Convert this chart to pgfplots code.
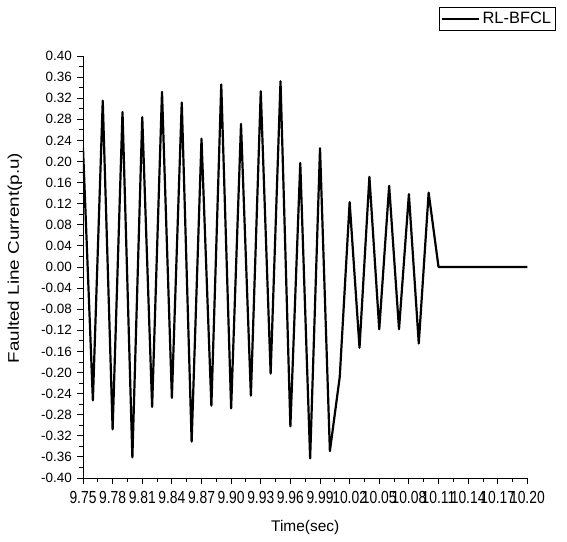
\documentclass[border=0pt]{standalone}
\usepackage{fontspec}
\setmainfont{Liberation Sans}
\usepackage{pgfplots}
\pgfplotsset{compat=1.18}
\begin{document}
\begin{tikzpicture}
\useasboundingbox (-83bp,-64bp) rectangle (484bp,478bp);
\begin{axis}[
  at={(0,0)}, anchor=south west,
  scale only axis,
  width=444.4bp, height=422bp,
  xmin=9.75, xmax=10.20, ymin=-0.40, ymax=0.40,
  axis x line*=bottom, axis y line*=left,
  axis line style={line width=0.9bp},
  tick align=outside,
  major tick length=6bp, minor tick length=3.5bp,
  every tick/.style={black, line width=0.9bp},
  xtick={9.75,9.78,9.81,9.84,9.87,9.90,9.93,9.96,9.99,10.02,10.05,10.08,10.11,10.14,10.17,10.20},
  ytick={-0.40,-0.36,-0.32,-0.28,-0.24,-0.20,-0.16,-0.12,-0.08,-0.04,0,0.04,0.08,0.12,0.16,0.20,0.24,0.28,0.32,0.36,0.40},
  minor x tick num=1, minor y tick num=1,
  /pgf/number format/.cd, fixed, fixed zerofill, precision=2, assume math mode=true,
  /pgfplots/.cd,
  tick label style={font=\fontsize{13.5}{15}\selectfont},
  xticklabel={\scalebox{1.03}[1.3]{\pgfmathprintnumber{\tick}}},
  xticklabel style={inner sep=0bp, yshift=-7bp},
  yticklabel style={inner sep=0bp, xshift=-5bp},
  xlabel={Time(sec)},
  ylabel={\scalebox{1.22}[1]{Faulted Line Current(p.u)}},
  label style={font=\fontsize{15.5}{18}\selectfont},
  xlabel style={at={(axis description cs:0.5,-0.118)}, anchor=center},
  ylabel style={at={(axis description cs:-0.153,0.521)}, anchor=center},
  legend style={at={(axis description cs:0.801,1.116)}, anchor=north west,
    draw=black, line width=0.8bp, font=\fontsize{16.5}{19}\selectfont,
    inner xsep=2bp, inner ysep=3bp},
  legend image code/.code={\draw[line width=2.2bp] (12bp,0bp) -- (49bp,0bp);},
  legend cell align=left,
]
\addplot[black, line width=2.2bp, line join=round] coordinates {
(9.75,0.226) (9.76,-0.253) (9.77,0.315) (9.78,-0.308) (9.79,0.294)
(9.80,-0.361) (9.81,0.284) (9.82,-0.265) (9.83,0.332) (9.84,-0.248)
(9.85,0.312) (9.86,-0.331) (9.87,0.243) (9.88,-0.263) (9.89,0.346)
(9.90,-0.268) (9.91,0.271) (9.92,-0.244) (9.93,0.333) (9.94,-0.202)
(9.95,0.352) (9.96,-0.302) (9.97,0.197) (9.98,-0.363) (9.99,0.225)
(10.00,-0.349) (10.01,-0.208) (10.02,0.123) (10.03,-0.153) (10.04,0.171)
(10.05,-0.118) (10.06,0.154) (10.07,-0.118) (10.08,0.138) (10.09,-0.145)
(10.10,0.141) (10.11,0) (10.20,0)
};
\addlegendentry{RL-BFCL}
\end{axis}
\end{tikzpicture}
\end{document}
